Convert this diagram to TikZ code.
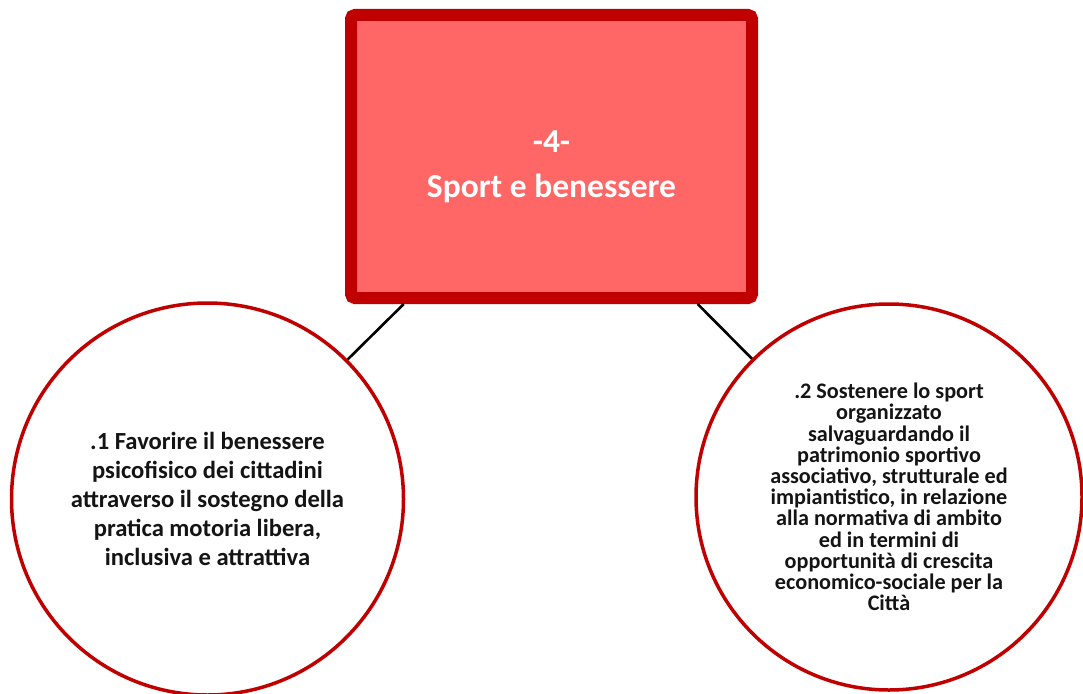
\documentclass[tikz,border=0pt]{standalone}
\usepackage{fontspec}
\setmainfont{Carlito}
\usepackage{tikz}
\usetikzlibrary{positioning}
\definecolor{boxRed}{RGB}{255, 102, 102}
\definecolor{borderRed}{RGB}{192, 0, 0}
\definecolor{textDark}{RGB}{20, 20, 20}

\begin{document}
\begin{tikzpicture}[
    x=1pt, y=-1pt,
    titlebox/.style={rectangle, draw=borderRed, fill=boxRed, line width=12pt, rounded corners=4pt, minimum width=401pt, minimum height=283pt, inner sep=0pt, text=white, align=center, font=\fontsize{33.5}{45}\selectfont\bfseries},
    goal/.style={circle, draw=borderRed, fill=white, line width=3.5pt, minimum size=#1, inner sep=0pt, text=textDark, align=center},
    goal/.default={392pt},
    link/.style={draw=black, line width=2.6pt}
]
\useasboundingbox (0,0) rectangle (1083,693);

% Area title
\node[titlebox] (area) at (551.5,156.5) {\rule{0pt}{42pt}-4-\\Sport e benessere};

% Goals
\node[goal=392pt, font=\fontsize{24.6}{29}\selectfont\bfseries] (goalA) at (207.5,499) {.1 Favorire il benessere\\psicofisico dei cittadini\\attraverso il sostegno della\\pratica motoria libera,\\inclusiva e attrattiva};
\node[goal=386pt, font=\fontsize{22.2}{21.2}\selectfont\bfseries] (goalB) at (889,497) {.2 Sostenere lo sport\\organizzato\\salvaguardando il\\patrimonio sportivo\\associativo, strutturale ed\\impiantistico, in relazione\\alla normativa di ambito\\ed in termini di\\opportunità di crescita\\economico-sociale per la\\Città};

% Links
\begin{scope}[on background layer/.try]
\draw[link] (area) -- (goalA);
\draw[link] (area) -- (goalB);
\end{scope}

\end{tikzpicture}
\end{document}
